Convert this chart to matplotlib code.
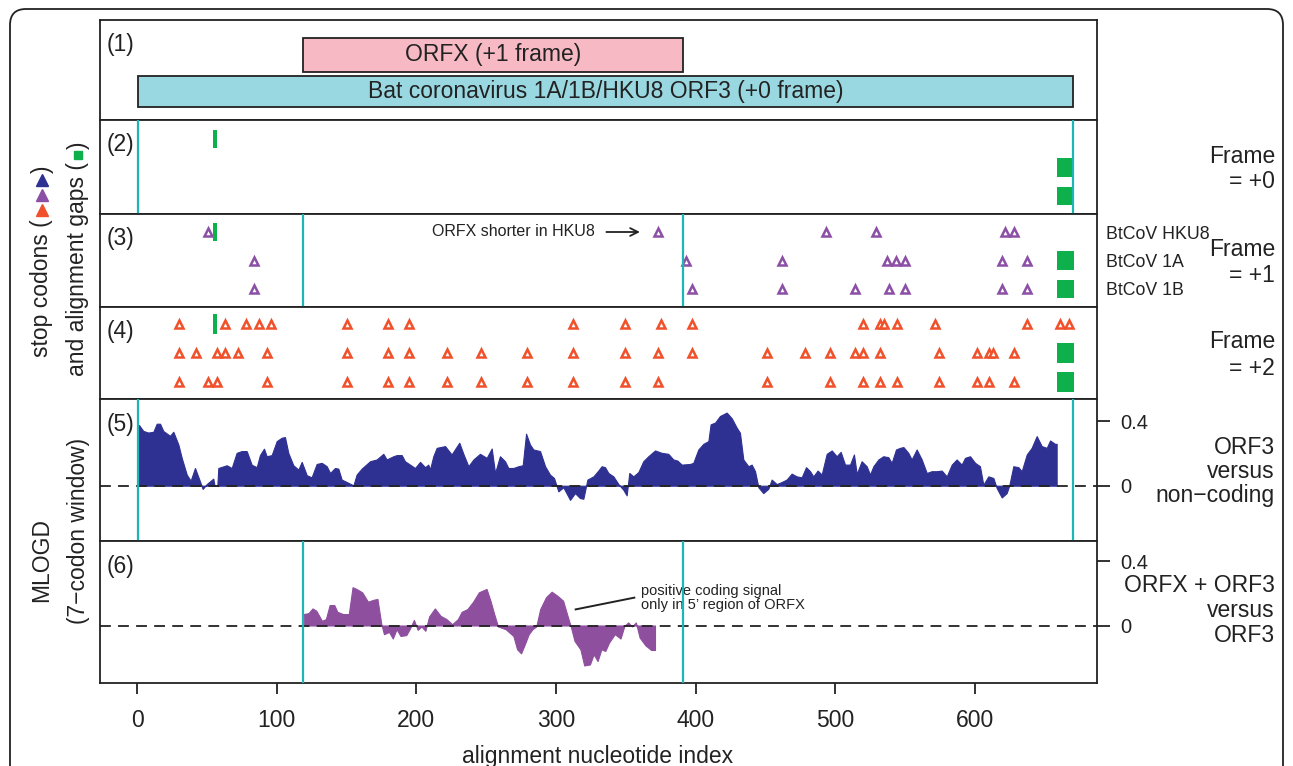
import matplotlib
matplotlib.use('Agg')
import matplotlib.pyplot as plt
from matplotlib.patches import Rectangle, FancyBboxPatch
from matplotlib.lines import Line2D
from matplotlib.transforms import IdentityTransform

plt.rcParams['font.family'] = ['Liberation Sans', 'DejaVu Sans']

# ---------------- data ----------------
ORF3_START, ORF3_END = 1, 670
ORFX_START, ORFX_END = 119, 391

# stop codons, frame +1 (rows: HKU8, 1A, 1B)
f1_hku8 = [51, 373, 493, 529, 621, 628]
f1_1a = [84, 393, 462, 537, 543, 550, 619, 637]
f1_1b = [84, 397, 462, 514, 538, 550, 619, 637]

# stop codons, frame +2
f2_hku8 = [30, 63, 78, 87, 96, 150, 180, 195, 312, 349, 375, 397, 520, 532, 535,
           544, 571, 637, 661, 667]
f2_1a = [30, 42, 57, 63, 72, 93, 150, 180, 195, 222, 246, 279, 312, 349, 373, 397,
         451, 478, 496, 514, 520, 532, 574, 601, 610, 613, 628]
f2_1b = [30, 51, 57, 93, 150, 180, 195, 222, 246, 279, 312, 349, 373, 451, 496,
         520, 532, 544, 574, 601, 610, 628]

# alignment gaps (start, end) per row
gap_hku8 = [(54.5, 57.5)]
gap_1a = [(658.5, 670.5)]
gap_1b = [(658.5, 670.5)]

# MLOGD ORF3 vs non-coding
p5_x = [1.4, 4.5, 8.1, 11.7, 14.1, 16.5, 18.8, 23.6, 26.0, 29.6, 32.0, 35.6, 38.4, 41.5,
        44.6, 47.0, 49.9, 54.6, 55.5, 57.5, 58.2, 64.2, 67.8, 71.3, 74.9, 78.5, 82.1, 85.7,
        88.0, 90.9, 92.8, 96.4, 100.0, 103.6, 105.9, 108.3, 111.9, 115.5, 117.9, 121.5,
        125.0, 128.6, 132.2, 135.8, 138.2, 141.7, 144.1, 146.5, 150.1, 154.9, 157.2, 160.8,
        166.8, 171.6, 176.3, 178.7, 183.5, 185.9, 189.5, 191.8, 195.4, 199.0, 202.6, 206.2,
        208.5, 209.7, 212.1, 214.5, 220.5, 225.2, 230.7, 233.6, 237.2, 240.8, 245.5, 250.3,
        253.9, 256.3, 259.8, 263.4, 265.8, 269.4, 273.0, 276.1, 278.5, 281.3, 283.7, 288.5,
        292.1, 295.6, 298.5, 301.6, 305.2, 310.0, 313.5, 317.1, 319.5, 322.4, 326.7, 330.2,
        332.6, 335.0, 337.4, 341.0, 344.6, 348.1, 350.5, 352.4, 355.3, 358.9, 362.4, 366.0,
        370.8, 375.6, 380.3, 383.9, 386.8, 389.9, 395.9, 398.2, 401.8, 405.4, 409.0, 410.6,
        413.8, 417.3, 422.1, 425.7, 429.3, 431.6, 434.0, 437.6, 440.0, 442.4, 444.8, 448.3,
        451.9, 454.3, 457.9, 461.5, 465.0, 468.6, 472.2, 475.8, 478.9, 481.8, 484.1, 487.2,
        490.1, 493.7, 497.3, 500.8, 503.7, 506.8, 510.4, 513.2, 515.2, 518.7, 522.3, 524.7,
        527.1, 530.7, 534.2, 537.8, 540.2, 543.3, 546.2, 548.6, 552.1, 554.5, 558.1, 561.7,
        565.3, 568.8, 572.4, 576.0, 579.6, 583.2, 586.7, 590.3, 592.7, 596.3, 599.9, 603.4,
        605.8, 609.4, 613.0, 615.4, 619.0, 622.5, 624.4, 627.3, 630.9, 633.3, 636.9, 640.4,
        644.0, 647.6, 651.2, 653.6, 657.1, 658.3]
p5_y = [0.377, 0.34, 0.33, 0.335, 0.385, 0.385, 0.34, 0.31, 0.335, 0.256, 0.173, 0.069, 0.031,
        0.11, 0.038, -0.02, 0.01, 0.044, 0.0, 0.0, 0.11, 0.127, 0.11, 0.204, 0.215, 0.215,
        0.13, 0.115, 0.19, 0.23, 0.183, 0.19, 0.277, 0.298, 0.302, 0.204, 0.127, 0.1, 0.148,
        0.065, 0.052, 0.135, 0.142, 0.121, 0.079, 0.11, 0.106, 0.038, 0.023, 0.002, 0.069,
        0.106, 0.152, 0.163, 0.198, 0.163, 0.183, 0.19, 0.19, 0.152, 0.131, 0.11, 0.148,
        0.115, 0.131, 0.1, 0.183, 0.235, 0.246, 0.194, 0.267, 0.198, 0.121, 0.163, 0.198,
        0.173, 0.231, 0.079, 0.183, 0.152, 0.11, 0.11, 0.121, 0.127, 0.323, 0.256, 0.225,
        0.215, 0.121, 0.069, 0.048, -0.035, -0.01, -0.088, -0.046, -0.077, -0.081, 0.038,
        0.058, 0.094, 0.121, 0.115, 0.079, 0.058, 0.01, -0.025, -0.06, 0.079, 0.058, 0.085,
        0.152, 0.183, 0.219, 0.204, 0.198, 0.163, 0.156, 0.131, 0.135, 0.142, 0.225, 0.26,
        0.277, 0.381, 0.392, 0.433, 0.454, 0.419, 0.36, 0.329, 0.163, 0.121, 0.131, 0.09,
        -0.01, -0.046, -0.019, 0.038, 0.01, 0.023, 0.038, 0.075, 0.058, 0.052, 0.115, 0.09,
        0.058, 0.094, 0.069, 0.198, 0.219, 0.183, 0.21, 0.131, 0.131, 0.194, 0.073, 0.152,
        0.121, 0.069, 0.121, 0.163, 0.183, 0.177, 0.142, 0.225, 0.235, 0.24, 0.204, 0.163,
        0.225, 0.163, 0.079, 0.09, 0.09, 0.094, 0.058, 0.131, 0.163, 0.131, 0.173, 0.183,
        0.142, 0.121, 0.006, 0.058, 0.048, -0.015, -0.073, -0.046, 0.002, 0.121, 0.115, 0.09,
        0.194, 0.235, 0.308, 0.246, 0.235, 0.281, 0.26, 0.26]

# MLOGD ORFX+ORF3 vs ORF3
p6_x = [119.3, 122.8, 125.6, 128.3, 132.4, 135.2, 137.9, 141.2, 143.4, 147.5, 151.6, 154.3,
        157.1, 161.2, 165.3, 169.4, 172.1, 174.9, 176.8, 180.4, 183.1, 185.8, 188.6, 192.7,
        195.4, 198.2, 200.9, 203.6, 206.4, 209.1, 213.2, 217.3, 221.5, 225.6, 229.7, 232.4,
        236.5, 240.6, 244.7, 247.5, 250.2, 253.0, 255.7, 258.4, 263.9, 269.4, 272.1, 274.9,
        277.6, 280.4, 283.1, 285.8, 288.6, 292.7, 296.8, 300.9, 305.0, 307.8, 310.5, 313.2,
        317.4, 320.1, 324.2, 326.9, 329.7, 332.4, 335.2, 337.9, 342.0, 346.1, 348.9, 351.6,
        354.3, 357.1, 359.8, 363.9, 368.0, 370.8]
p6_y = [0.071, 0.077, 0.106, 0.092, 0.029, 0.04, 0.127, 0.127, 0.085, 0.071, 0.071, 0.238,
        0.227, 0.206, 0.148, 0.16, 0.165, 0.008, -0.054, -0.04, -0.081, -0.023, -0.065, -0.06,
        -0.019, 0.035, -0.027, -0.006, -0.033, 0.056, 0.106, 0.06, 0.04, 0.008, 0.04, 0.085,
        0.102, 0.148, 0.206, 0.217, 0.227, 0.154, 0.071, -0.006, -0.023, -0.065, -0.148,
        -0.173, -0.117, -0.054, -0.023, -0.006, 0.102, 0.175, 0.21, 0.185, 0.154, 0.071,
        -0.006, -0.096, -0.148, -0.248, -0.242, -0.179, -0.221, -0.148, -0.158, -0.106,
        -0.054, -0.081, -0.002, 0.019, -0.006, 0.019, -0.075, -0.123, -0.152, -0.152]

x_ticks = [0, 100, 200, 300, 400, 500, 600]
y_ticks = [0, 0.4]
y_ticklabels = ['0', '0.4']

# ---------------- styling ----------------
C_PINK = '#F7BAC4'
C_CYANBOX = '#9AD8E1'
C_CYAN = '#1DB6B6'
C_GREEN = '#0DB04B'
C_PURPLE = '#8C4FA6'
C_ORANGE = '#F0502A'
C_BLUE = '#2E3192'
C_BLUE_TRI = '#2E3192'
C_VIOLET = '#8E4F9F'
C_SPINE = '#222222'
FS = 16.5

W, H = 1293, 766
fig = plt.figure(figsize=(W / 100, H / 100), dpi=100)


def fx(px):
    return px / W


def fy(py):
    return 1 - py / H


# outer rounded frame
frame = FancyBboxPatch((10, -60), 1273, 757 + 60,
                       boxstyle='round,pad=0,rounding_size=16',
                       transform=IdentityTransform(), fill=False,
                       edgecolor='#222222', linewidth=1.3)
fig.patches.append(frame)

XL, XR = 100, 1097
X0PX, PXU = 137, 1.397
xlim = ((XL - X0PX) / PXU, (XR - X0PX) / PXU)

edges = [20, 120, 214, 307, 399, 541, 683]
axes = []
for i in range(6):
    top, bot = edges[i], edges[i + 1]
    ax = fig.add_axes([fx(XL), fy(bot), (XR - XL) / W, (bot - top) / H])
    ax.set_xlim(*xlim)
    for s in ax.spines.values():
        s.set_linewidth(1.3)
        s.set_color(C_SPINE)
    ax.set_xticks([])
    ax.set_yticks([])
    ax.annotate('(%d)' % (i + 1), xy=(0, 1), xycoords='axes fraction',
                xytext=(7, -25), textcoords='offset pixels',
                ha='left', va='center', fontsize=FS, color='#222222')
    axes.append(ax)

# ---- panel 1: ORF boxes ----
ax = axes[0]
ax.set_ylim(0, 1)
ax.add_patch(Rectangle((ORFX_START, 0.48), ORFX_END - ORFX_START, 0.34,
                       facecolor=C_PINK, edgecolor='#222222', lw=1.3))
ax.text((ORFX_START + ORFX_END) / 2, 0.65, 'ORFX (+1 frame)', ha='center', va='center',
        fontsize=FS, color='#222222')
ax.add_patch(Rectangle((ORF3_START, 0.13), ORF3_END - ORF3_START, 0.31,
                       facecolor=C_CYANBOX, edgecolor='#222222', lw=1.3))
ax.text((ORF3_START + ORF3_END) / 2, 0.285, 'Bat coronavirus 1A/1B/HKU8 ORF3 (+0 frame)',
        ha='center', va='center', fontsize=FS, color='#222222')

# ---- panels 2-4: stop codons ----
row_px = {1: (196, 28.5), 2: (289, 28.5), 3: (382, 29.0)}
frames = {1: ([], [], [], C_BLUE_TRI), 2: (f1_hku8, f1_1a, f1_1b, C_PURPLE),
          3: (f2_hku8, f2_1a, f2_1b, C_ORANGE)}
gaps = [gap_hku8, gap_1a, gap_1b]
for k in (1, 2, 3):
    ax = axes[k]
    r1, sp = row_px[k]
    top, bot = edges[k], edges[k + 1]
    ax.set_ylim(1 - (bot - r1) / sp, 1 + (r1 - top) / sp)
    hk, a, b, col = frames[k]
    for row, xs in zip((3, 2, 1), (hk, a, b)):
        if xs:
            ax.plot(xs, [row] * len(xs), linestyle='none', marker='^', ms=5.5,
                    mfc='white', mec=col, mew=1.8, zorder=3)
    for row, gl in zip((3, 2, 1), gaps):
        for g0, g1 in gl:
            ax.add_patch(Rectangle((g0, row - 0.33), g1 - g0, 0.66, facecolor=C_GREEN,
                                   edgecolor='none', zorder=4))

for x in (ORF3_START, ORF3_END):
    axes[1].axvline(x, color=C_CYAN, lw=1.6, zorder=5)
for x in (ORFX_START, ORFX_END):
    axes[2].axvline(x, color=C_CYAN, lw=1.6, zorder=5)

axes[2].text(328, 3, 'ORFX shorter in HKU8', ha='right', va='center', fontsize=11.5,
             color='#222222')
axes[2].annotate('', xy=(362, 3), xytext=(334, 3),
                 arrowprops=dict(arrowstyle='->', lw=1.3, color='#222222',
                                 mutation_scale=14))

# right labels
def rtext(py, s, x=1275, fs=FS):
    fig.text(fx(x), fy(py), s, ha='right', va='baseline', fontsize=fs, color='#222222')

rtext(163, 'Frame'); rtext(188, '= +0')
rtext(256, 'Frame'); rtext(282, '= +1')
rtext(348, 'Frame'); rtext(375, '= +2')
for py, s in zip((239, 267, 295), ('BtCoV HKU8', 'BtCoV 1A', 'BtCoV 1B')):
    fig.text(fx(1106), fy(py), s, ha='left', va='baseline', fontsize=12.8, color='#222222')

rtext(454, 'ORF3'); rtext(478, 'versus'); rtext(502, 'non\u2212coding')
rtext(592, 'ORFX + ORF3'); rtext(617, 'versus'); rtext(642, 'ORF3')

# ---- panels 5-6: MLOGD ----
def mlogd(ax, xs, ys, col, zero_px, top, bot, lines):
    ppu = 161.0
    ax.set_ylim(-(bot - zero_px) / ppu, (zero_px - top) / ppu)
    ax.fill_between(xs, 0, ys, color=col, lw=0.8, zorder=2)
    ax.axhline(0, color='#222222', lw=1.3, dashes=(6, 4), zorder=3)
    for x in lines:
        ax.axvline(x, color=C_CYAN, lw=1.6, zorder=5)
    ax.yaxis.tick_right()
    ax.set_yticks(y_ticks)
    ax.set_yticklabels(y_ticklabels)
    ax.tick_params(axis='y', direction='out', length=9, width=1.3, pad=8,
                   labelsize=14.5, colors='#222222')

mlogd(axes[4], p5_x, p5_y, C_BLUE, 485.7, edges[4], edges[5], (ORF3_START, ORF3_END))
mlogd(axes[5], p6_x, p6_y, C_VIOLET, 625.5, edges[5], edges[6], (ORFX_START, ORFX_END))

axes[5].text(361, 0.19, 'positive coding signal', ha='left', va='baseline',
             fontsize=10.5, color='#222222')
axes[5].text(361, 0.105, 'only in 5\u2019 region of ORFX', ha='left', va='baseline',
             fontsize=10.5, color='#222222')
axes[5].plot([314, 356], [0.1, 0.173], color='#222222', lw=1.4)

ax = axes[5]
ax.set_xticks(x_ticks)
ax.set_xticklabels([str(v) for v in x_ticks])
ax.tick_params(axis='x', direction='out', length=8, width=1.3, pad=11,
               labelsize=FS, colors='#222222')
fig.text(fx(598), fy(757), 'alignment nucleotide index', ha='center', va='center',
         fontsize=FS, color='#222222')

# ---- left labels ----
def vtext(x, y, s, ha):
    fig.text(fx(x), fy(y), s, rotation=90, rotation_mode='anchor', ha=ha,
             va='center', fontsize=FS, color='#222222')

vtext(42, 219, 'stop codons (', 'right')
vtext(42, 173, ')', 'left')
for py, c in zip((210, 195, 180), (C_ORANGE, C_PURPLE, C_BLUE_TRI)):
    fig.add_artist(Line2D([fx(42)], [fy(py)], transform=fig.transFigure, marker='^',
                          ms=8, color=c, mec=c, linestyle='none'))
vtext(78, 162, 'and alignment gaps (', 'right')
vtext(78, 149, ')', 'left')
fig.add_artist(Line2D([fx(78)], [fy(155)], transform=fig.transFigure, marker='s',
                      ms=6, color=C_GREEN, mec=C_GREEN, linestyle='none'))

fig.text(fx(42), fy(560), 'MLOGD', rotation=90, ha='center', va='center', fontsize=FS,
         color='#222222')
fig.text(fx(78), fy(531), '(7\u2212codon window)', rotation=90, ha='center', va='center',
         fontsize=FS, color='#222222')

fig.savefig('out.png', dpi=100)
